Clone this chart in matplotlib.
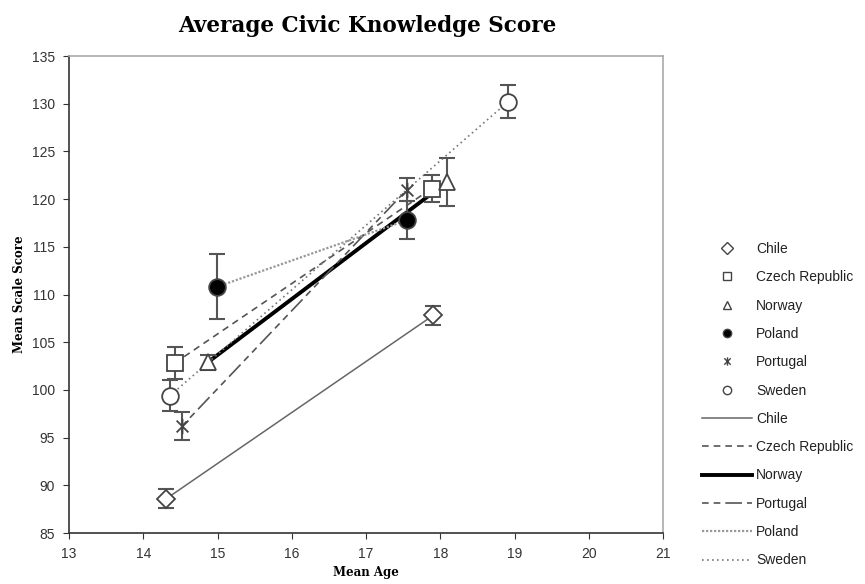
import matplotlib
matplotlib.use("Agg")
import matplotlib.pyplot as plt
from matplotlib.lines import Line2D
from matplotlib.path import Path

# country data: (age, score, error) for the younger and older groups
countries = ["Chile", "Czech Republic", "Norway", "Poland", "Portugal", "Sweden"]
ages = {
    "Chile": [14.31, 17.90],
    "Czech Republic": [14.42, 17.88],
    "Norway": [14.87, 18.09],
    "Poland": [14.99, 17.55],
    "Portugal": [14.52, 17.55],
    "Sweden": [14.36, 18.91],
}
scores = {
    "Chile": [88.6, 107.8],
    "Czech Republic": [102.8, 121.1],
    "Norway": [102.9, 121.8],
    "Poland": [110.8, 117.8],
    "Portugal": [96.2, 121.0],
    "Sweden": [99.4, 130.2],
}
errors = {
    "Chile": [1.0, 1.0],
    "Czech Republic": [1.7, 1.4],
    "Norway": [0.8, 2.5],
    "Poland": [3.4, 2.0],
    "Portugal": [1.5, 1.2],
    "Sweden": [1.6, 1.75],
}
line_order = ["Chile", "Czech Republic", "Norway", "Portugal", "Poland", "Sweden"]

# Portugal's marker: an X with a vertical bar through it
star = Path([(-1, -1), (1, 1), (-1, 1), (1, -1), (0, -1.3), (0, 1.3)],
            [Path.MOVETO, Path.LINETO, Path.MOVETO, Path.LINETO, Path.MOVETO, Path.LINETO])

markers = {"Chile": "D", "Czech Republic": "s", "Norway": "^",
           "Poland": "o", "Portugal": star, "Sweden": "o"}
msizes = {"Chile": 9, "Czech Republic": 11, "Norway": 11,
          "Poland": 12, "Portugal": 11, "Sweden": 12}
line_styles = {
    "Chile": dict(color="#666666", lw=1.1, ls="-"),
    "Czech Republic": dict(color="#555555", lw=1.2, ls=(0, (4, 3))),
    "Norway": dict(color="black", lw=2.8, ls="-"),
    "Portugal": dict(color="#555555", lw=1.2, ls=(0, (4, 3, 4, 3, 10, 3))),
    "Poland": dict(color="#999999", lw=1.6, ls=(0, (1, 0.8))),
    "Sweden": dict(color="#777777", lw=1.2, ls=(0, (1, 2))),
}

serif = "DejaVu Serif"
sans = "Liberation Sans"

fig = plt.figure(figsize=(8.65, 5.84), dpi=100)
ax = fig.add_axes([0.0798, 0.0873, 0.687, 0.8168])

# connecting lines
for c in line_order:
    ax.plot(ages[c], scores[c], zorder=2, **line_styles[c])

# points with error bars
for c in countries:
    face = "black" if c == "Poland" else "white"
    if c == "Portugal":
        face = "none"
    ax.errorbar(ages[c], scores[c], yerr=errors[c], fmt="none",
                ecolor="#555555", elinewidth=1.5, capsize=6, capthick=1.5, zorder=3)
    ax.plot(ages[c], scores[c], ls="none", marker=markers[c], ms=msizes[c],
            mfc=face, mec="#444444", mew=1.3, zorder=4)

ax.set_xlim(13, 21)
ax.set_ylim(85, 135)
ax.set_xticks(range(13, 22))
ax.set_yticks(range(85, 136, 5))
ax.tick_params(direction="out", length=4, color="#333333", labelsize=10,
               labelcolor="#333333", pad=6)
for lab in ax.get_xticklabels() + ax.get_yticklabels():
    lab.set_fontfamily(sans)
ax.spines["left"].set_color("#333333")
ax.spines["bottom"].set_color("#333333")
ax.spines["top"].set_color("#aaaaaa")
ax.spines["right"].set_color("#aaaaaa")
for s in ax.spines.values():
    s.set_linewidth(1.2)

ax.set_xlabel("Mean Age", fontfamily=serif, fontweight="bold", fontsize=8.5, labelpad=4)
ax.set_ylabel("Mean Scale Score", fontfamily=serif, fontweight="bold", fontsize=8.5, labelpad=4)
fig.suptitle("Average Civic Knowledge Score", x=0.424, y=0.975,
             fontfamily=serif, fontweight="bold", fontsize=15.5)

# legend: marker series first, then line series
handles = []
labels = []
for c in countries:
    face = "black" if c == "Poland" else "white"
    handles.append(Line2D([], [], ls="none", marker=markers[c], ms=6,
                          mfc=face, mec="#444444", mew=1.0))
    labels.append(c)
for c in line_order:
    handles.append(Line2D([], [], **line_styles[c]))
    labels.append(c)

fig.legend(handles, labels, loc="upper left", bbox_to_anchor=(0.797, 0.607),
           frameon=False, prop={"family": sans, "size": 10}, handlelength=3.6,
           handletextpad=0.3, labelspacing=1.03, labelcolor="#222222")

fig.savefig("out.png", dpi=100)
